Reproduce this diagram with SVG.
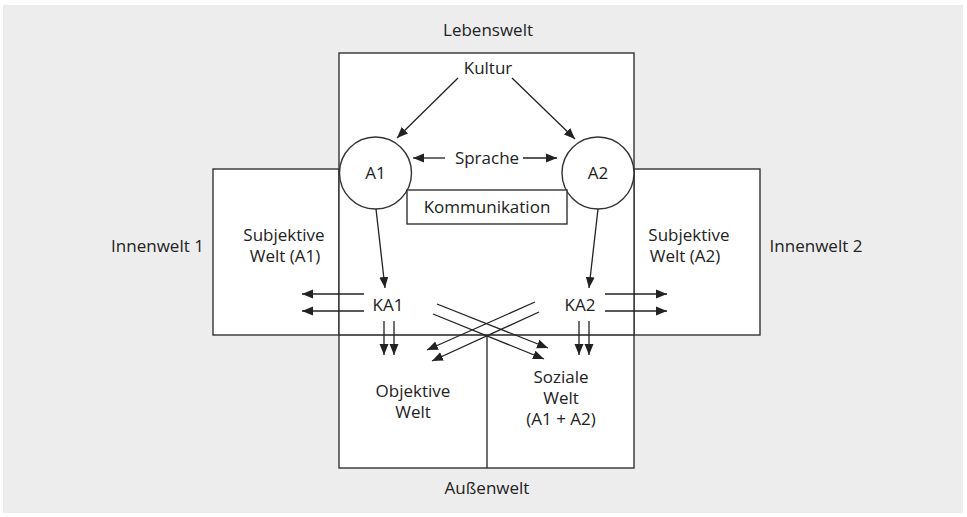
<svg xmlns="http://www.w3.org/2000/svg" width="967" height="517" viewBox="0 0 967 517">
<defs>
<marker id="ah" markerUnits="userSpaceOnUse" markerWidth="12" markerHeight="10" viewBox="0 0 12 10" refX="11" refY="5" orient="auto">
<path d="M0,0.5 L11,5 L0,9.5 z" fill="#222"/>
</marker>
<style>
.box{fill:#fff;stroke:#333;stroke-width:1.4}
.ln{stroke:#222;stroke-width:1.3;fill:none}
.ar{stroke:#222;stroke-width:1.3;fill:none;marker-end:url(#ah)}
text{font-family:"Open Sans","Noto Sans",sans-serif;font-size:17px;fill:#222;text-anchor:middle}
</style>
</defs>
<rect x="3" y="5" width="960" height="508" fill="#ededed"/>
<g id="innenwelt1-box"><rect class="box" x="213" y="169" width="126" height="166"/></g>
<g id="innenwelt2-box"><rect class="box" x="634" y="169" width="126" height="166"/></g>
<g id="lebenswelt"><rect class="box" x="339" y="53" width="295" height="415"/></g>
<g id="aussenwelt-lines">
<line class="ln" x1="339" y1="335" x2="634" y2="335"/>
<line class="ln" x1="487" y1="335" x2="487" y2="468"/>
</g>
<g id="A1"><circle class="box" cx="375.5" cy="173" r="36"/><text x="375.5" y="179">A1</text></g>
<g id="A2"><circle class="box" cx="598" cy="173" r="36"/><text x="598" y="179">A2</text></g>
<g id="kommunikation"><rect class="box" x="407" y="190" width="160" height="34"/><text x="487" y="213">Kommunikation</text></g>
<g id="labels">
<text x="488" y="36">Lebenswelt</text>
<text x="488" y="74">Kultur</text>
<text x="487" y="164">Sprache</text>
<text x="284" y="241">Subjektive</text>
<text x="285" y="262">Welt (A1)</text>
<text x="689" y="241">Subjektive</text>
<text x="685" y="262">Welt (A2)</text>
<text x="157.5" y="252">Innenwelt 1</text>
<text x="816" y="252">Innenwelt 2</text>
<text x="388" y="311">KA1</text>
<text x="580" y="311">KA2</text>
<text x="413" y="397">Objektive</text>
<text x="413" y="418">Welt</text>
<text x="561" y="383">Soziale</text>
<text x="561" y="404">Welt</text>
<text x="561" y="425">(A1 + A2)</text>
<text x="487" y="494">Außenwelt</text>
</g>
<g id="connectors">
<line class="ar" x1="458" y1="78" x2="397" y2="138"/>
<line class="ar" x1="512" y1="78" x2="575" y2="139"/>
<line class="ar" x1="445" y1="158" x2="413" y2="158"/>
<line class="ar" x1="523" y1="158" x2="557" y2="158"/>
<line class="ar" x1="376" y1="209" x2="385" y2="288"/>
<line class="ar" x1="598" y1="209" x2="589" y2="288"/>
<line class="ar" x1="364" y1="294" x2="302" y2="294"/>
<line class="ar" x1="364" y1="311" x2="302" y2="311"/>
<line class="ar" x1="605" y1="294" x2="667" y2="294"/>
<line class="ar" x1="605" y1="311" x2="667" y2="311"/>
<line class="ar" x1="384" y1="321" x2="384" y2="355"/>
<line class="ar" x1="394" y1="321" x2="394" y2="355"/>
<line class="ar" x1="579" y1="321" x2="579" y2="355"/>
<line class="ar" x1="589" y1="321" x2="589" y2="355"/>
<line class="ar" x1="437" y1="304" x2="548" y2="348"/>
<line class="ar" x1="433" y1="314" x2="544" y2="359"/>
<line class="ar" x1="535" y1="302" x2="427" y2="350"/>
<line class="ar" x1="539" y1="312" x2="432" y2="361"/>
</g>
</svg>
